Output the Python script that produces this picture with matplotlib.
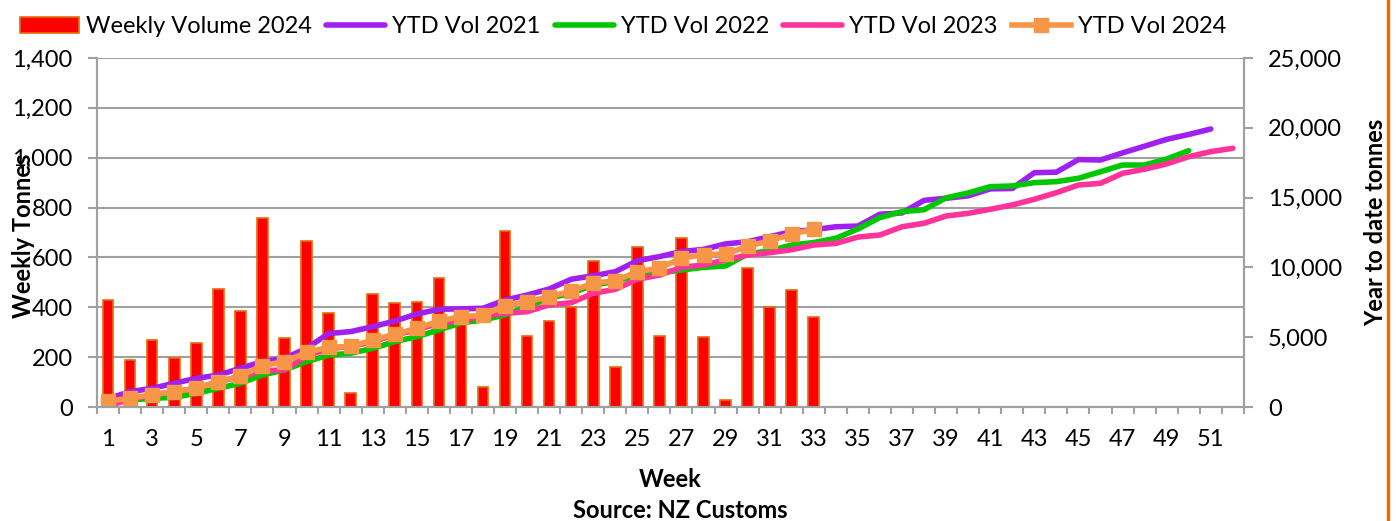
import matplotlib
matplotlib.use('Agg')
import matplotlib.pyplot as plt
from matplotlib.lines import Line2D
import numpy as np

# Weekly volume 2024 (tonnes), weeks 1-33
weekly_2024 = [430, 190, 270, 197, 258, 475, 387, 760, 277, 664,
               376, 55, 453, 416, 421, 517, 335, 79, 707, 285,
               343, 400, 584, 161, 640, 285, 677, 280, 27, 557,
               400, 469, 360]

# Year to date volumes (tonnes)
ytd_2021 = [600, 1100, 1340, 1700, 2050, 2290, 2770, 3250, 3490, 4200,
            5260, 5400, 5750, 6160, 6660, 7000, 7030, 7070, 7660, 8020,
            8450, 9150, 9400, 9690, 10480, 10770, 11130, 11290, 11680, 11840,
            12200, 12560, 12700, 12910, 12960, 13810, 13900, 14800, 14950, 15120,
            15620, 15650, 16780, 16820, 17720, 17690, 18200, 18680, 19170, 19520,
            19910]
ytd_2022 = [380, 500, 620, 690, 980, 1340, 1700, 2290, 2650, 3250,
            3720, 3850, 4200, 4680, 5040, 5520, 6020, 6230, 6590, 7190,
            7800, 8140, 8740, 8980, 9450, 9620, 9810, 10000, 10100, 10960,
            11200, 11600, 11780, 12080, 12750, 13570, 13990, 14130, 14980, 15330,
            15780, 15830, 16070, 16140, 16380, 16850, 17330, 17330, 17760, 18360]
ytd_2023 = [80, 550, 860, 1100, 1340, 1810, 2170, 2600, 2650, 3650,
            4200, 4320, 4680, 5160, 5520, 6000, 6150, 6520, 6710, 6830,
            7310, 7470, 8140, 8430, 9150, 9450, 10000, 10170, 10530, 10890,
            11050, 11270, 11600, 11720, 12170, 12320, 12910, 13160, 13680, 13870,
            14160, 14470, 14880, 15350, 15900, 16020, 16740, 17030, 17410, 17930,
            18290, 18530]
ytd_2024 = [430, 620, 890, 1087, 1345, 1820, 2207, 2967, 3244, 3908,
            4284, 4339, 4792, 5208, 5629, 6146, 6481, 6560, 7267, 7552,
            7895, 8295, 8879, 9040, 9680, 9965, 10642, 10922, 10949, 11506,
            11906, 12375, 12735]

n_weeks = 52
fs = 17
plt.rcParams['font.family'] = ['Lato', 'DejaVu Sans']

fig = plt.figure(figsize=(13.96, 5.21), dpi=100)
ax = fig.add_axes([0.0695, 0.2188, 0.8215, 0.67])
ax2 = ax.twinx()

grey = '#A0A0A0'

weeks_bar = np.arange(1, len(weekly_2024) + 1)
bars = ax.bar(weeks_bar, weekly_2024, width=0.48, color='#FF0000',
              edgecolor='#E46C0A', linewidth=1.2, zorder=2, label='Weekly Volume 2024')

l21, = ax2.plot(np.arange(1, len(ytd_2021) + 1), ytd_2021, color='#A020F0', lw=4,
                solid_capstyle='round', label='YTD Vol 2021')
l22, = ax2.plot(np.arange(1, len(ytd_2022) + 1), ytd_2022, color='#00C800', lw=4,
                solid_capstyle='round', label='YTD Vol 2022')
l23, = ax2.plot(np.arange(1, len(ytd_2023) + 1), ytd_2023, color='#FF3399', lw=4,
                solid_capstyle='round', label='YTD Vol 2023')
l24, = ax2.plot(np.arange(1, len(ytd_2024) + 1), ytd_2024, color='#F79646', lw=4,
                marker='s', markersize=10, label='YTD Vol 2024')

# axes ranges
ax.set_xlim(0.5, n_weeks + 0.5)
ax.set_ylim(0, 1400)
ax2.set_ylim(0, 25000)

ax.set_yticks(np.arange(0, 1401, 200))
ax.set_yticklabels([f'{v:,}' for v in range(0, 1401, 200)], fontsize=fs)
ax2.set_yticks(np.arange(0, 25001, 5000))
ax2.set_yticklabels([f'{v:,}' for v in range(0, 25001, 5000)], fontsize=fs)

ax.set_xticks(np.arange(1, n_weeks + 1, 2))
ax.set_xticklabels([str(w) for w in range(1, n_weeks + 1, 2)], fontsize=fs)
ax.set_xticks(np.arange(0.5, n_weeks + 1, 1), minor=True)
ax.tick_params(axis='x', which='major', length=0, pad=16)
ax.tick_params(axis='x', which='minor', length=5, color=grey, width=1.5)
ax.tick_params(axis='y', length=6.5, color=grey, width=1.5, pad=11)
ax2.tick_params(axis='y', length=6.5, color=grey, width=1.5, pad=11)

ax.grid(axis='y', color=grey, lw=1.5, zorder=0)
ax.set_axisbelow(True)
for a in (ax, ax2):
    a.spines['top'].set_visible(False)
    for s in ('left', 'right', 'bottom'):
        a.spines[s].set_color(grey)
        a.spines[s].set_linewidth(1.5)

ax.set_ylabel('Weekly Tonnes', fontsize=fs, fontweight='bold')
ax.yaxis.set_label_coords(-0.054, 0.49)
ax2.set_ylabel('Year to date tonnes', fontsize=fs, fontweight='bold')
ax2.yaxis.set_label_coords(1.105, 0.53)
ax.set_xlabel('Week', fontsize=fs, fontweight='bold')
ax.xaxis.set_label_coords(0.5, -0.175)
fig.text(0.487, 0.021, 'Source: NZ Customs', fontsize=fs, fontweight='bold',
         ha='center', va='center')

fig.legend(handles=[bars, l21, l22, l23, l24], loc='upper left', bbox_to_anchor=(-0.001, 1.01),
           ncol=5, frameon=False, fontsize=fs, handlelength=2.5, handletextpad=0.3,
           columnspacing=0.6)

# orange border line on the right
fig.add_artist(Line2D([0.9945, 0.9945], [0, 1], transform=fig.transFigure,
                      color='#E46C0A', lw=2.5))

plt.savefig('out.png', dpi=100)
